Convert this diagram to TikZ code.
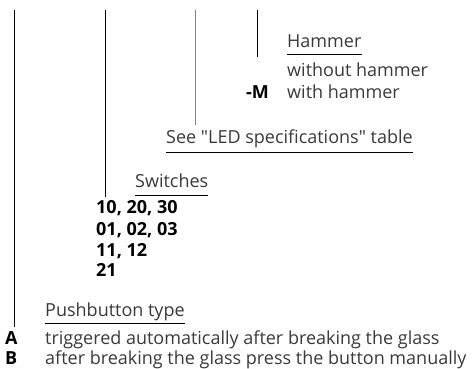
\documentclass[tikz,border=0pt]{standalone}
\usepackage{fontspec}
\setmainfont{Open Sans}[Ligatures=TeXOff]
\begin{document}
\begin{tikzpicture}[x=1pt,y=-1pt,
  txt/.style={anchor=base west,inner sep=0pt,text=textgray,font=\fontsize{18}{20}\selectfont},
  code/.style={anchor=base west,inner sep=0pt,text=black,font=\fontsize{18}{20}\selectfont\bfseries},
  lead/.style={line width=0.9pt,draw=black},
  uline/.style={line width=0.9pt,draw=black}]
\definecolor{textgray}{HTML}{3A3A3A}
\useasboundingbox (0,0) rectangle (472,369);
% Hammer group
\node[txt] (ham) at (287,48) {Hammer};
\node[txt] (wo) at (287,77) {without hammer};
\node[txt] (wi) at (287,99) {with hammer};
\node[code,anchor=base east] (m) at (269,99) {-M};
% LED
\node[txt] (led) at (166,143) {See "LED specifications" table};
% Switches
\node[txt] (sw) at (135,187) {Switches};
\node[code] (s1) at (96,214) {10, 20, 30};
\node[code] (s2) at (96,235) {01, 02, 03};
\node[code] (s3) at (96,256) {11, 12};
\node[code] (s4) at (96,276) {21};
% Pushbutton
\node[txt] (pb) at (45,316) {Pushbutton type};
\node[code] (a) at (5,344) {A};
\node[code] (b) at (5,364) {B};
\node[txt] (ta) at (45,344) {triggered automatically after breaking the glass};
\node[txt] (tb) at (45,364) {after breaking the glass press the button manually};
% underlines
\draw[uline] ([yshift=-6pt]ham.base west) -- ([yshift=-6pt]ham.base east);
\draw[uline] ([yshift=-9pt]led.base west) -- ([yshift=-9pt]led.base east);
\draw[uline] ([yshift=-8pt]sw.base west) -- ([yshift=-8pt]sw.base east);
\draw[uline] ([yshift=-7pt]pb.base west) -- ([yshift=-7pt]pb.base east);
% leader lines
\coordinate (t1) at (14,10);
\coordinate (t2) at (105,10);
\coordinate (t3) at (195,10);
\coordinate (t4) at (257,10);
\draw[lead] (t1) -- ([yshift=-11pt]t1 |- pb.base);
\draw[lead] (t2) -- ([yshift=-10pt]t2 |- sw.base);
\draw[lead,draw=gray] (t3) -- ([yshift=18pt]t3 |- led.base);
\draw[lead] (t4) -- ([yshift=-9pt]t4 |- ham.base);
\end{tikzpicture}
\end{document}
